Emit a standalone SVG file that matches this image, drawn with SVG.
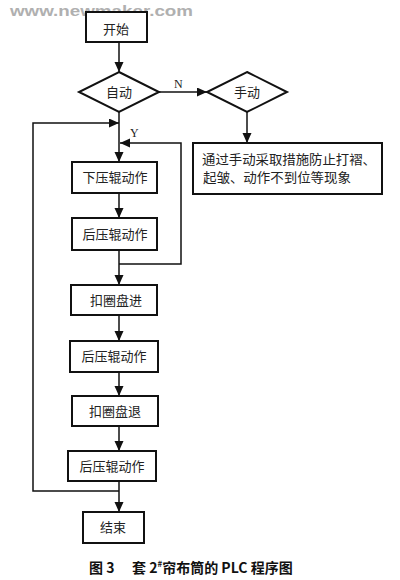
<svg xmlns="http://www.w3.org/2000/svg" width="400" height="580" viewBox="0 0 400 580">
<defs>
<style>
.box{fill:#fff;stroke:#111;stroke-width:2}
.t{font-family:"Noto Sans CJK SC","Noto Sans",sans-serif;font-size:13px;fill:#222;text-anchor:middle}
.c{fill:none;stroke:#111;stroke-width:1.5}
.lbl{font-family:"Liberation Serif",serif;font-size:12px;fill:#222}
</style>
<marker id="ah" markerUnits="userSpaceOnUse" markerWidth="10" markerHeight="10" refX="10" refY="4.5" orient="auto">
<path d="M0,0 L10,4.5 L0,9 z" fill="#111"/>
</marker>
</defs>
<rect width="400" height="580" fill="#fff"/>
<text x="10" y="15.5" font-family="Liberation Sans,sans-serif" font-weight="bold" font-size="15" fill="#b0b0b0" textLength="183" lengthAdjust="spacingAndGlyphs">www.newmaker.com</text>
<g id="connectors">
<line class="c" x1="119" y1="42" x2="119" y2="72" marker-end="url(#ah)"/>
<line class="c" x1="159" y1="92" x2="207" y2="92" marker-end="url(#ah)"/>
<line class="c" x1="247" y1="112" x2="247" y2="143" marker-end="url(#ah)"/>
<line class="c" x1="119" y1="112" x2="119" y2="162" marker-end="url(#ah)"/>
<path class="c" d="M119,491 H33 V123 H119" marker-end="url(#ah)"/>
<path class="c" d="M119,264 H181 V143 H120" marker-end="url(#ah)"/>
<line class="c" x1="119" y1="193" x2="119" y2="218" marker-end="url(#ah)"/>
<line class="c" x1="119" y1="250" x2="119" y2="285" marker-end="url(#ah)"/>
<line class="c" x1="119" y1="315" x2="119" y2="341" marker-end="url(#ah)"/>
<line class="c" x1="119" y1="372" x2="119" y2="396" marker-end="url(#ah)"/>
<line class="c" x1="119" y1="426" x2="119" y2="451" marker-end="url(#ah)"/>
<line class="c" x1="119" y1="481" x2="119" y2="512" marker-end="url(#ah)"/>
<text class="lbl" x="174" y="88">N</text>
<text class="lbl" x="130" y="137">Y</text>
</g>
<g id="start"><rect class="box" x="86" y="12" width="61" height="30"/><text class="t" x="116" y="34">开始</text></g>
<g id="auto"><polygon class="box" points="119,72 159,92 119,112 79,92"/><text class="t" x="119" y="97">自动</text></g>
<g id="manual"><polygon class="box" points="247,72 287,92 247,112 207,92"/><text class="t" x="247" y="97">手动</text></g>
<g id="manual-note"><rect class="box" x="193" y="143" width="189" height="51"/>
<text class="t" x="289" y="164" textLength="174" lengthAdjust="spacingAndGlyphs">通过手动采取措施防止打褶、</text>
<text class="t" x="203" y="182" style="text-anchor:start" textLength="148" lengthAdjust="spacingAndGlyphs">起皱、动作不到位等现象</text></g>
<g id="press-down"><rect class="box" x="72" y="162" width="85" height="31"/><text class="t" x="115" y="182">下压辊动作</text></g>
<g id="rear-press-1"><rect class="box" x="72" y="218" width="85" height="32"/><text class="t" x="115" y="239">后压辊动作</text></g>
<g id="ring-in"><rect class="box" x="71" y="285" width="86" height="30"/><text class="t" x="116" y="305">扣圈盘进</text></g>
<g id="rear-press-2"><rect class="box" x="70" y="341" width="88" height="31"/><text class="t" x="114" y="361">后压辊动作</text></g>
<g id="ring-out"><rect class="box" x="72" y="396" width="86" height="30"/><text class="t" x="115" y="416">扣圈盘退</text></g>
<g id="rear-press-3"><rect class="box" x="68" y="451" width="88" height="30"/><text class="t" x="112" y="471">后压辊动作</text></g>
<g id="end"><rect class="box" x="83" y="512" width="61" height="31"/><text class="t" x="113" y="532">结束</text></g>
<text x="89" y="573" font-family="'Noto Sans CJK SC',sans-serif" font-weight="bold" font-size="14" fill="#111">图 3<tspan x="132">套 2</tspan><tspan font-size="8" dy="-6">#</tspan><tspan dy="6">帘布筒的 PLC 程序图</tspan></text>
</svg>
